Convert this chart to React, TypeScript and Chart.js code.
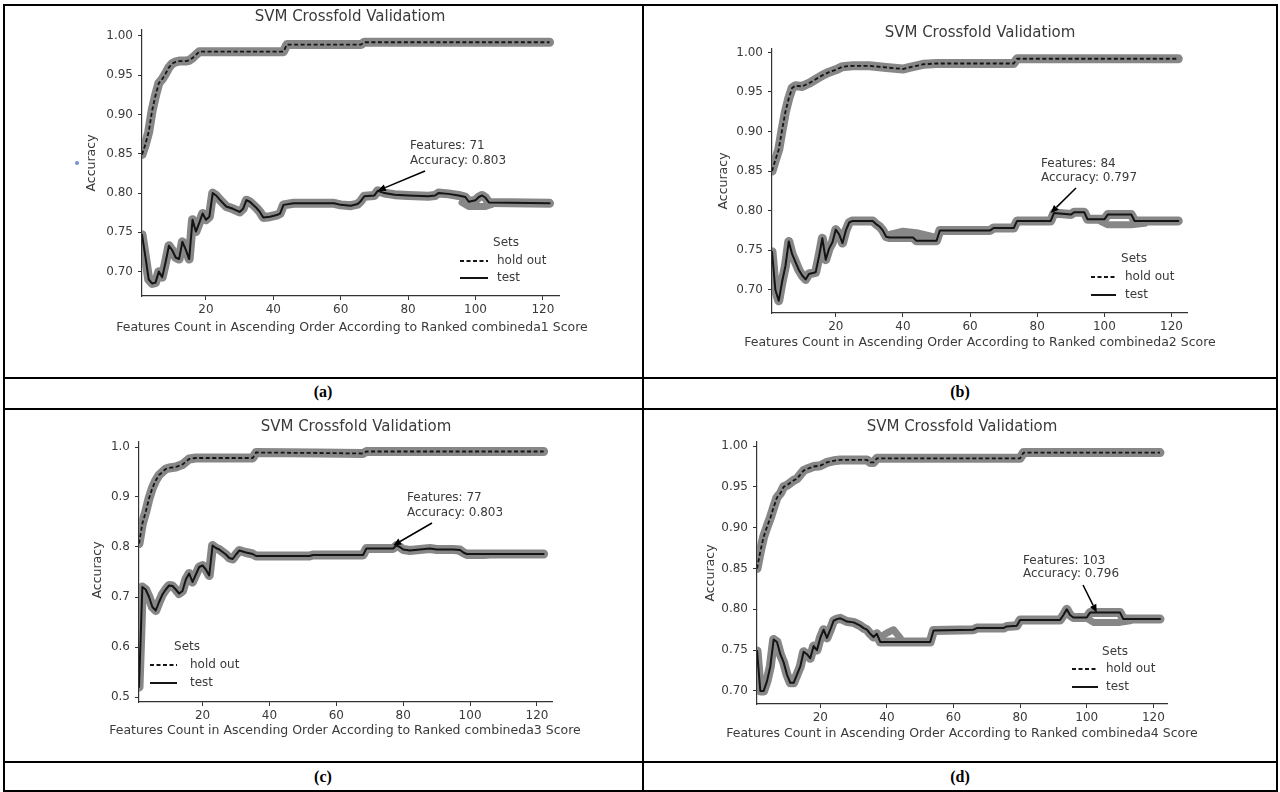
import React, { useEffect, useRef } from "react";
import { Chart, registerables } from "chart.js";

Chart.register(...registerables);

// ---------------- text / tick data ----------------
const TITLE = "SVM Crossfold Validatiom";
const Y_LABEL = "Accuracy";
const X_LABELS = [
  "Features Count in Ascending Order According to Ranked combineda1 Score",
  "Features Count in Ascending Order According to Ranked combineda2 Score",
  "Features Count in Ascending Order According to Ranked combineda3 Score",
  "Features Count in Ascending Order According to Ranked combineda4 Score",
];
const PANEL_TAGS = ["(a)", "(b)", "(c)", "(d)"];
const LEGEND_TITLE = "Sets";
const LEGEND_LABELS = ["hold out", "test"];

const X_TICKS = [20, 40, 60, 80, 100, 120];
const X_TICK_LABELS = ["20", "40", "60", "80", "100", "120"];
const Y_TICKS_FINE = [0.7, 0.75, 0.8, 0.85, 0.9, 0.95, 1.0];
const Y_TICK_LABELS_FINE = ["0.70", "0.75", "0.80", "0.85", "0.90", "0.95", "1.00"];
const Y_TICKS_COARSE = [0.5, 0.6, 0.7, 0.8, 0.9, 1.0];
const Y_TICK_LABELS_COARSE = ["0.5", "0.6", "0.7", "0.8", "0.9", "1.0"];

const BEST_FEATURES = [71, 84, 77, 103];
const BEST_ACCURACY = [0.803, 0.797, 0.803, 0.796];

// ---------------- series data ----------------
// (a)
const holdA_x = [1, 2, 3, 4, 5, 6, 7, 8, 9, 10, 11, 12, 14, 15, 16, 17, 18, 43, 44, 66, 67, 122];
const holdA_y = [0.849, 0.862, 0.878, 0.905, 0.924, 0.94, 0.945, 0.952, 0.96, 0.965, 0.967, 0.968, 0.968, 0.969, 0.972, 0.976, 0.98, 0.98, 0.989, 0.989, 0.992, 0.992];
const testA_x = [1, 2, 3, 4, 5, 6, 7, 8, 9, 10, 11, 12, 13, 14, 15, 16, 17, 18, 19, 20, 21, 22, 23, 24, 26, 28, 30, 31, 32, 33, 35, 36, 37, 39, 41, 42, 43, 46, 58, 60, 63, 65, 66, 67, 70, 71, 73, 76, 80, 86, 88, 89, 92, 95, 97, 98, 100, 101, 102, 103, 104, 122];
const testA_y = [0.747, 0.719, 0.69, 0.685, 0.686, 0.7, 0.693, 0.712, 0.733, 0.727, 0.718, 0.716, 0.738, 0.728, 0.716, 0.766, 0.751, 0.762, 0.774, 0.766, 0.77, 0.8, 0.797, 0.792, 0.783, 0.78, 0.776, 0.78, 0.791, 0.789, 0.781, 0.776, 0.769, 0.77, 0.772, 0.774, 0.785, 0.787, 0.787, 0.785, 0.784, 0.786, 0.79, 0.796, 0.797, 0.803, 0.8, 0.798, 0.797, 0.796, 0.797, 0.8, 0.799, 0.797, 0.795, 0.789, 0.791, 0.795, 0.797, 0.794, 0.788, 0.787];
const bandA_x = [96, 98, 103, 105];
const bandA_y = [0.788, 0.783, 0.783, 0.786];
// (b)
const holdB_x = [1, 2, 3, 4, 5, 6, 7, 8, 10, 12, 14, 16, 18, 20, 22, 25, 30, 35, 40, 42, 46, 50, 73, 74, 122];
const holdB_y = [0.85, 0.864, 0.877, 0.902, 0.925, 0.942, 0.955, 0.958, 0.957, 0.961, 0.966, 0.971, 0.975, 0.978, 0.982, 0.983, 0.983, 0.981, 0.979, 0.981, 0.985, 0.986, 0.986, 0.992, 0.992];
const testB_x = [1, 2, 3, 4, 5, 6, 7, 8, 9, 10, 11, 12, 14, 15, 16, 17, 18, 19, 20, 21, 22, 23, 24, 25, 31, 32, 33, 34, 35, 36, 43, 44, 50, 51, 66, 67, 73, 74, 84, 85, 90, 91, 94, 95, 100, 101, 108, 109, 122];
const testB_y = [0.748, 0.7, 0.686, 0.71, 0.73, 0.761, 0.745, 0.735, 0.725, 0.718, 0.713, 0.72, 0.722, 0.742, 0.765, 0.738, 0.752, 0.76, 0.776, 0.77, 0.759, 0.775, 0.785, 0.787, 0.787, 0.783, 0.78, 0.775, 0.767, 0.766, 0.766, 0.762, 0.762, 0.775, 0.775, 0.778, 0.778, 0.787, 0.787, 0.797, 0.795, 0.798, 0.798, 0.789, 0.789, 0.795, 0.795, 0.787, 0.787];
const bandB_x = [36, 40, 44, 49, 99, 101, 108, 112];
const bandB_y = [0.77, 0.774, 0.772, 0.767, 0.786, 0.782, 0.782, 0.784];
// (c)
const holdC_x = [1, 2, 3, 4, 5, 6, 7, 8, 9, 10, 12, 14, 16, 18, 20, 35, 36, 55, 68, 69, 122];
const holdC_y = [0.807, 0.847, 0.87, 0.897, 0.918, 0.933, 0.944, 0.95, 0.956, 0.958, 0.96, 0.965, 0.976, 0.978, 0.978, 0.978, 0.989, 0.988, 0.987, 0.991, 0.991];
const testC_x = [1, 2, 3, 4, 5, 6, 7, 8, 9, 10, 11, 12, 13, 14, 15, 16, 17, 18, 19, 20, 21, 22, 23, 24, 25, 26, 27, 28, 29, 30, 31, 33, 35, 36, 52, 53, 68, 69, 77, 78, 79, 80, 82, 85, 88, 90, 95, 97, 98, 99, 100, 122];
const testC_y = [0.52, 0.72, 0.715, 0.7, 0.68, 0.673, 0.69, 0.705, 0.715, 0.723, 0.722, 0.715, 0.707, 0.712, 0.735, 0.747, 0.73, 0.745, 0.76, 0.763, 0.755, 0.743, 0.803, 0.798, 0.795, 0.79, 0.785, 0.778, 0.776, 0.785, 0.793, 0.789, 0.786, 0.782, 0.782, 0.784, 0.784, 0.797, 0.797, 0.803, 0.8, 0.795, 0.793, 0.795, 0.797, 0.795, 0.795, 0.794, 0.789, 0.786, 0.786, 0.786];
const bandC_x = [97, 99, 104, 106];
const bandC_y = [0.79, 0.783, 0.783, 0.785];
// (d)
const holdD_x = [1, 2, 3, 4, 5, 6, 7, 8, 9, 10, 11, 12, 13, 14, 15, 16, 18, 20, 22, 24, 26, 34, 35, 36, 37, 80, 81, 122];
const holdD_y = [0.85, 0.871, 0.889, 0.901, 0.912, 0.925, 0.937, 0.942, 0.95, 0.952, 0.955, 0.958, 0.96, 0.965, 0.97, 0.972, 0.975, 0.976, 0.98, 0.982, 0.983, 0.983, 0.98, 0.98, 0.985, 0.985, 0.992, 0.992];
const testD_x = [1, 2, 3, 4, 5, 6, 7, 8, 9, 10, 11, 12, 13, 14, 15, 16, 17, 18, 19, 20, 21, 22, 23, 24, 25, 26, 27, 28, 30, 32, 33, 34, 35, 36, 37, 38, 53, 54, 66, 67, 75, 76, 79, 80, 92, 93, 94, 95, 96, 100, 101, 110, 111, 122];
const testD_y = [0.749, 0.7, 0.7, 0.712, 0.73, 0.763, 0.76, 0.745, 0.735, 0.72, 0.71, 0.71, 0.72, 0.73, 0.748, 0.745, 0.74, 0.755, 0.75, 0.765, 0.775, 0.765, 0.775, 0.786, 0.788, 0.789, 0.787, 0.785, 0.784, 0.78, 0.777, 0.775, 0.77, 0.766, 0.77, 0.76, 0.76, 0.774, 0.775, 0.777, 0.777, 0.779, 0.78, 0.787, 0.787, 0.793, 0.8, 0.793, 0.79, 0.79, 0.796, 0.796, 0.788, 0.788];
const bandD_x = [38, 40, 42, 44, 100, 102, 110, 113];
const bandD_y = [0.766, 0.771, 0.775, 0.765, 0.789, 0.784, 0.784, 0.786];

const SERIES = [
  { hx: holdA_x, hy: holdA_y, tx: testA_x, ty: testA_y, bx: bandA_x, by: bandA_y },
  { hx: holdB_x, hy: holdB_y, tx: testB_x, ty: testB_y, bx: bandB_x, by: bandB_y },
  { hx: holdC_x, hy: holdC_y, tx: testC_x, ty: testC_y, bx: bandC_x, by: bandC_y },
  { hx: holdD_x, hy: holdD_y, tx: testD_x, ty: testD_y, bx: bandD_x, by: bandD_y },
];

// ---------------- layout (page coordinates) ----------------
const PANELS = [
  {
    cell: [4, 5, 639, 373], area: [142, 30, 559, 296], xr: [1, 124.8], yr: [0.669, 1.0076], fine: true,
    title: [350, 17], ylab: [92, 163], xlab: [352, 328],
    legend: { tx: 506, ty: 243, l1: 460, l2: 488, textX: 497, r1: 261, r2: 278 },
    anno: { x: 410, y1: 146, y2: 161, fx: 425, fy: 171 },
    dot: [77, 163],
  },
  {
    cell: [643, 5, 634, 373], area: [772, 49, 1187, 313], xr: [1, 124.6], yr: [0.6706, 1.0043], fine: true,
    title: [980, 33], ylab: [724, 181], xlab: [980, 343],
    legend: { tx: 1134, ty: 259, l1: 1091, l2: 1116, textX: 1125, r1: 277, r2: 295 },
    anno: { x: 1041, y1: 164, y2: 178, fx: 1076, fy: 188 },
  },
  {
    cell: [4, 409, 639, 353], area: [139, 442, 552, 702], xr: [1, 124.5], yr: [0.49, 1.01], fine: false,
    title: [356, 427], ylab: [98, 570], xlab: [345, 731],
    legend: { tx: 187, ty: 647, l1: 150, l2: 177, textX: 190, r1: 665, r2: 683 },
    anno: { x: 407, y1: 498, y2: 513, fx: 432, fy: 523 },
  },
  {
    cell: [643, 409, 634, 353], area: [757, 442, 1167, 704], xr: [1, 124.1], yr: [0.684, 1.005], fine: true,
    title: [962, 427], ylab: [711, 573], xlab: [962, 734],
    legend: { tx: 1115, ty: 652, l1: 1072, l2: 1098, textX: 1106, r1: 669, r2: 687 },
    anno: { x: 1023, y1: 561, y2: 574, fx: 1083, fy: 585 },
  },
];

const FONT = '"DejaVu Sans", Verdana, sans-serif';
const TXT = "#3a3a3a";
const HALO = "#878787";
const CORE = "#141414";
const Y_SCALE_W = 50;
const X_SCALE_H = 24;

function pts(xs: number[], ys: number[]) {
  return xs.map((x, i) => ({ x, y: ys[i] }));
}

function makeOverlay(i: number) {
  const p = PANELS[i];
  const cx = p.cell[0];
  const cy = p.cell[1];
  return {
    id: "overlay" + i,
    afterDraw(chart: any) {
      const ctx = chart.ctx as CanvasRenderingContext2D;
      ctx.save();
      ctx.fillStyle = TXT;
      ctx.textBaseline = "middle";
      // title
      ctx.font = `15px ${FONT}`;
      ctx.textAlign = "center";
      ctx.fillText(TITLE, p.title[0] - cx, p.title[1] - cy);
      // x label
      ctx.font = `12.5px ${FONT}`;
      ctx.fillText(X_LABELS[i], p.xlab[0] - cx, p.xlab[1] - cy);
      // y label
      ctx.save();
      ctx.translate(p.ylab[0] - cx, p.ylab[1] - cy);
      ctx.rotate(-Math.PI / 2);
      ctx.fillText(Y_LABEL, 0, 0);
      ctx.restore();
      // legend
      ctx.font = `12px ${FONT}`;
      const lg = p.legend;
      ctx.fillText(LEGEND_TITLE, lg.tx - cx, lg.ty - cy);
      ctx.textAlign = "left";
      ctx.fillText(LEGEND_LABELS[0], lg.textX - cx, lg.r1 - cy);
      ctx.fillText(LEGEND_LABELS[1], lg.textX - cx, lg.r2 - cy);
      ctx.strokeStyle = CORE;
      ctx.lineWidth = 2;
      ctx.setLineDash([4, 2.5]);
      ctx.beginPath();
      ctx.moveTo(lg.l1 - cx, lg.r1 - cy);
      ctx.lineTo(lg.l2 - cx, lg.r1 - cy);
      ctx.stroke();
      ctx.setLineDash([]);
      ctx.beginPath();
      ctx.moveTo(lg.l1 - cx, lg.r2 - cy);
      ctx.lineTo(lg.l2 - cx, lg.r2 - cy);
      ctx.stroke();
      // annotation
      const a = p.anno;
      ctx.fillText(`Features: ${BEST_FEATURES[i]}`, a.x - cx, a.y1 - cy);
      ctx.fillText(`Accuracy: ${BEST_ACCURACY[i].toFixed(3)}`, a.x - cx, a.y2 - cy);
      const tipX = chart.scales.x.getPixelForValue(BEST_FEATURES[i]);
      const tipY = chart.scales.y.getPixelForValue(BEST_ACCURACY[i]);
      const fx = a.fx - cx;
      const fy = a.fy - cy;
      const ang = Math.atan2(tipY - fy, tipX - fx);
      const hl = 8;
      const hw = 3.5;
      const bx = tipX - hl * Math.cos(ang);
      const by = tipY - hl * Math.sin(ang);
      ctx.strokeStyle = "#000";
      ctx.lineWidth = 1.5;
      ctx.beginPath();
      ctx.moveTo(fx, fy);
      ctx.lineTo(bx, by);
      ctx.stroke();
      ctx.fillStyle = "#000";
      ctx.beginPath();
      ctx.moveTo(tipX, tipY);
      ctx.lineTo(bx + hw * Math.sin(ang), by - hw * Math.cos(ang));
      ctx.lineTo(bx - hw * Math.sin(ang), by + hw * Math.cos(ang));
      ctx.closePath();
      ctx.fill();
      // stray blue dot (panel a)
      if ((p as any).dot) {
        const d = (p as any).dot;
        ctx.fillStyle = "#6f8fd6";
        ctx.beginPath();
        ctx.arc(d[0] - cx, d[1] - cy, 2, 0, Math.PI * 2);
        ctx.fill();
      }
      ctx.restore();
    },
  };
}

function buildConfig(i: number): any {
  const p = PANELS[i];
  const s = SERIES[i];
  const [cx, cy, w, h] = p.cell;
  const [l, t, r, b] = p.area;
  const yTicks = p.fine ? Y_TICKS_FINE : Y_TICKS_COARSE;
  const yLabels = p.fine ? Y_TICK_LABELS_FINE : Y_TICK_LABELS_COARSE;
  const line = (data: any, color: string, width: number, order: number, dash: number[] = []) => ({
    data,
    order,
    borderColor: color,
    backgroundColor: color,
    borderWidth: width,
    borderDash: dash,
    pointRadius: 0,
    fill: false,
    tension: 0,
    borderCapStyle: dash.length ? "butt" : "round",
    borderJoinStyle: "round",
  });
  const hold = pts(s.hx, s.hy);
  const test = pts(s.tx, s.ty);
  const bandSets: any[] = [];
  for (let k = 0; k < s.bx.length; k += 4) {
    bandSets.push(line(pts(s.bx.slice(k, k + 4), s.by.slice(k, k + 4)), HALO, 7, 3));
  }
  return {
    type: "line",
    data: {
      datasets: [
        line(hold, CORE, 1.8, 0, [4, 2.5]),
        line(test, CORE, 2, 0),
        line(hold, HALO, 9, 2),
        line(test, HALO, 9, 2),
        ...bandSets,
      ],
    },
    options: {
      animation: false,
      responsive: false,
      maintainAspectRatio: false,
      events: [],
      layout: {
        padding: {
          left: l - cx - Y_SCALE_W,
          top: t - cy,
          right: cx + w - r,
          bottom: cy + h - b - X_SCALE_H,
        },
      },
      plugins: { legend: { display: false }, tooltip: { enabled: false }, title: { display: false } },
      scales: {
        x: {
          type: "linear",
          min: p.xr[0],
          max: p.xr[1],
          afterBuildTicks: (sc: any) => {
            sc.ticks = X_TICKS.map((v) => ({ value: v }));
          },
          afterFit: (sc: any) => {
            sc.height = X_SCALE_H;
          },
          ticks: {
            autoSkip: false,
            maxRotation: 0,
            padding: 3,
            color: TXT,
            font: { family: FONT, size: 12 },
            callback: (_v: any, idx: number) => X_TICK_LABELS[idx],
          },
          grid: { display: true, drawOnChartArea: false, drawTicks: true, tickLength: 4, color: "#333", lineWidth: 1 },
          border: { display: true, color: "#333", width: 1.2 },
        },
        y: {
          type: "linear",
          min: p.yr[0],
          max: p.yr[1],
          afterBuildTicks: (sc: any) => {
            sc.ticks = yTicks.map((v) => ({ value: v }));
          },
          afterFit: (sc: any) => {
            sc.width = Y_SCALE_W;
          },
          ticks: {
            autoSkip: false,
            padding: 5,
            color: TXT,
            font: { family: FONT, size: 12 },
            callback: (_v: any, idx: number) => yLabels[idx],
          },
          grid: { display: true, drawOnChartArea: false, drawTicks: true, tickLength: 4, color: "#333", lineWidth: 1 },
          border: { display: true, color: "#333", width: 1.2 },
        },
      },
    },
    plugins: [makeOverlay(i)],
  };
}

const BORDERS: [number, number, number, number][] = [
  [3, 4, 1275, 2],
  [3, 4, 2, 788],
  [642, 4, 2, 788],
  [1276, 4, 2, 788],
  [3, 377, 1275, 2],
  [3, 408, 1275, 2],
  [3, 761, 1275, 2],
  [3, 790, 1275, 2],
];

const TAG_POS: [number, number][] = [
  [323, 393],
  [960, 393],
  [323, 778],
  [960, 778],
];

export default function App() {
  const refs = [useRef<HTMLCanvasElement>(null), useRef<HTMLCanvasElement>(null), useRef<HTMLCanvasElement>(null), useRef<HTMLCanvasElement>(null)];
  useEffect(() => {
    const charts: Chart[] = [];
    refs.forEach((ref, i) => {
      if (ref.current) charts.push(new Chart(ref.current, buildConfig(i)));
    });
    return () => charts.forEach((c) => c.destroy());
  }, []);

  return (
    <div style={{ position: "absolute", left: 0, top: 0, width: 1280, height: 792, background: "#fff", overflow: "hidden" }}>
      {PANELS.map((p, i) => (
        <canvas
          key={i}
          ref={refs[i]}
          width={p.cell[2]}
          height={p.cell[3]}
          style={{ position: "absolute", left: p.cell[0], top: p.cell[1], width: p.cell[2], height: p.cell[3] }}
        />
      ))}
      {BORDERS.map((bd, i) => (
        <div key={"b" + i} style={{ position: "absolute", left: bd[0], top: bd[1], width: bd[2], height: bd[3], background: "#000" }} />
      ))}
      {TAG_POS.map((tp, i) => (
        <div
          key={"t" + i}
          style={{
            position: "absolute",
            left: tp[0] - 50,
            top: tp[1] - 10,
            width: 100,
            height: 20,
            lineHeight: "20px",
            textAlign: "center",
            font: 'bold 16px "Liberation Serif", "Times New Roman", serif',
            color: "#000",
          }}
        >
          {PANEL_TAGS[i]}
        </div>
      ))}
    </div>
  );
}
